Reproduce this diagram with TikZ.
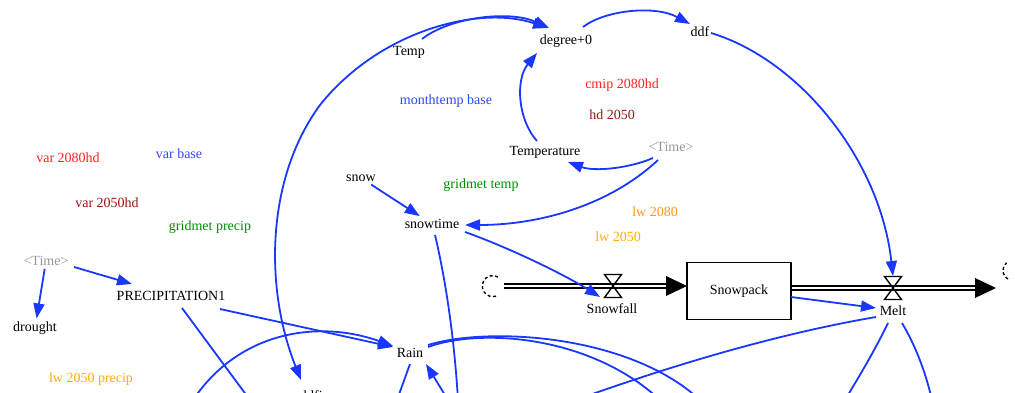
\documentclass[tikz,border=0pt]{standalone}
\usepackage{fontspec}
\setmainfont{Liberation Serif}
\usetikzlibrary{arrows.meta}

\definecolor{linkblue}{RGB}{25,55,255}
\definecolor{txtblue}{RGB}{45,70,255}
\definecolor{txtred}{RGB}{255,35,25}
\definecolor{txtdark}{RGB}{150,20,20}
\definecolor{txtgreen}{RGB}{0,140,0}
\definecolor{txtorange}{RGB}{255,150,25}
\definecolor{txtamber}{RGB}{255,172,0}
\definecolor{shadow}{RGB}{150,150,150}

\begin{document}
\begin{tikzpicture}[x=1pt,y=-1pt,
  font=\fontsize{14}{16}\selectfont,
  var/.style={inner sep=3pt},
  link/.style={draw=linkblue, line width=1.8pt, -{Triangle[length=15pt,width=11pt]}},
  plain/.style={draw=linkblue, line width=1.8pt},
  pipe/.style={draw=black, double=white, double distance=2.4pt, line width=1.4pt},
  valve/.style={draw=black, line width=1.4pt, line join=miter},
  cloud/.style={draw=black, line width=1.4pt, dash pattern=on 3pt off 2.5pt}]

\useasboundingbox (0,0) rectangle (1015,393);
\clip (0,0) rectangle (1015,393);

% ---- variables ----
\node[var] (Temp) at (409,52) {Temp};
\node[var] (deg) at (566,41) {degree+0};
\node[var] (ddf) at (700,32) {ddf};
\node[var, text=txtblue] (mtb) at (446,101) {monthtemp base};
\node[var, text=txtred] (cmip) at (622,85) {cmip 2080hd};
\node[var, text=txtdark] (hd) at (612,115) {hd 2050};
\node[var] (Tmp) at (545,152) {Temperature};
\node[var, text=shadow] (TimeR) at (671,147) {<Time>};
\node[var] (snow) at (361,178) {snow};
\node[var, text=txtgreen] (gtemp) at (481,185) {gridmet temp};
\node[var] (snowtime) at (432,224) {snowtime};
\node[var, text=txtorange] (lw80) at (655,212) {lw 2080};
\node[var, text=txtamber] (lw50) at (618,237) {lw 2050};
\node[var, text=txtred] (v80) at (68,158) {var 2080hd};
\node[var, text=txtblue] (vbase) at (179,154) {var base};
\node[var, text=txtdark] (v50) at (107,203) {var 2050hd};
\node[var, text=txtgreen] (gprec) at (210,227) {gridmet precip};
\node[var, text=shadow] (TimeL) at (46,261) {<Time>};
\node[var] (precip) at (171,296) {PRECIPITATION1};
\node[var] (drought) at (35,328) {drought};
\node[var, text=txtamber] (lwp) at (91,379) {lw 2050 precip};
\node[var] (Rain) at (410,353) {Rain};
\node[var, anchor=base] (ldfi) at (313,400) {ldfi};

% ---- stock and flows ----
\node[draw, line width=1.6pt, minimum width=104, minimum height=57] (pack) at (739,291) {Snowpack};
\coordinate (cloudL) at (492,285);
\coordinate (cloudR) at (1012,288);
\coordinate (vin) at (613,286);
\coordinate (vout) at (893,288);

\draw[pipe] (504,286) -- (670,286);
\draw[pipe] (pack.east |- 0,288) -- (978,288);
\fill (687,286) -- (666,276) -- (666,296) -- cycle;
\fill (996,288) -- (975,278) -- (975,298) -- cycle;
\draw[valve] (vin) ++(-8.5,-11.5) -- ++(17,0) -- ++(-17,23) -- ++(17,0) -- cycle;
\draw[valve] (vout) ++(-8.5,-11.5) -- ++(17,0) -- ++(-17,23) -- ++(17,0) -- cycle;
\node[var] (Snowfall) at (612,309) {Snowfall};
\node[var] (Melt) at (893,311) {Melt};
\draw[cloud] (cloudL) ++(6,-8) arc[start angle=-60, end angle=-300, radius=10.5];
\draw[cloud] (cloudR) ++(-4,-9) arc[start angle=120, end angle=230, radius=10];

% ---- links ----
\draw[link] (422,39) .. controls (450,17) and (510,10) .. (549,28);
\draw[plain, {Triangle[length=15pt,width=11pt]}-{Triangle[length=15pt,width=11pt]}]
  (548,28) .. controls (480,5) and (380,30) .. (320,105)
  .. controls (265,180) and (265,290) .. (301,380);
\draw[link] (583,27) .. controls (605,10) and (655,5) .. (690,24);
\draw[link] (711,33) .. controls (800,60) and (880,160) .. (893,276);
\draw[link] (537,141) .. controls (518,120) and (515,80) .. (537,53);
\draw[link] (653,158) .. controls (630,168) and (595,172) .. (568,162);
\draw[link] (658,160) .. controls (610,205) and (540,225) .. (465,225);
\draw[link] (snow) -- (snowtime);
\draw[link] (465,232) .. controls (510,248) and (565,275) .. (600,297);
\draw[plain] (435,235) .. controls (448,290) and (455,350) .. (458,400);
\draw[link] (791,297) -- (876,308);
\draw[plain] (876,317) .. controls (800,330) and (700,355) .. (570,402);
\draw[plain] (888,323) .. controls (875,350) and (860,375) .. (845,400);
\draw[plain] (902,323) .. controls (915,345) and (925,370) .. (932,400);
\draw[plain] (428,347) .. controls (480,328) and (590,335) .. (660,400);
\draw[plain] (428,345) .. controls (490,326) and (630,335) .. (700,400);
\draw[link] (220,309) -- (393,347);
\draw[link] (193,400) .. controls (240,330) and (320,320) .. (393,346);
\draw[plain] (182,308) -- (250,400);
\draw[link] (TimeL) -- (drought);
\draw[link] (74,267) -- (132,284);
\draw[link] (448,400) -- (426,364);
\draw[plain] (410,364) -- (397,400);
\end{tikzpicture}
\end{document}
